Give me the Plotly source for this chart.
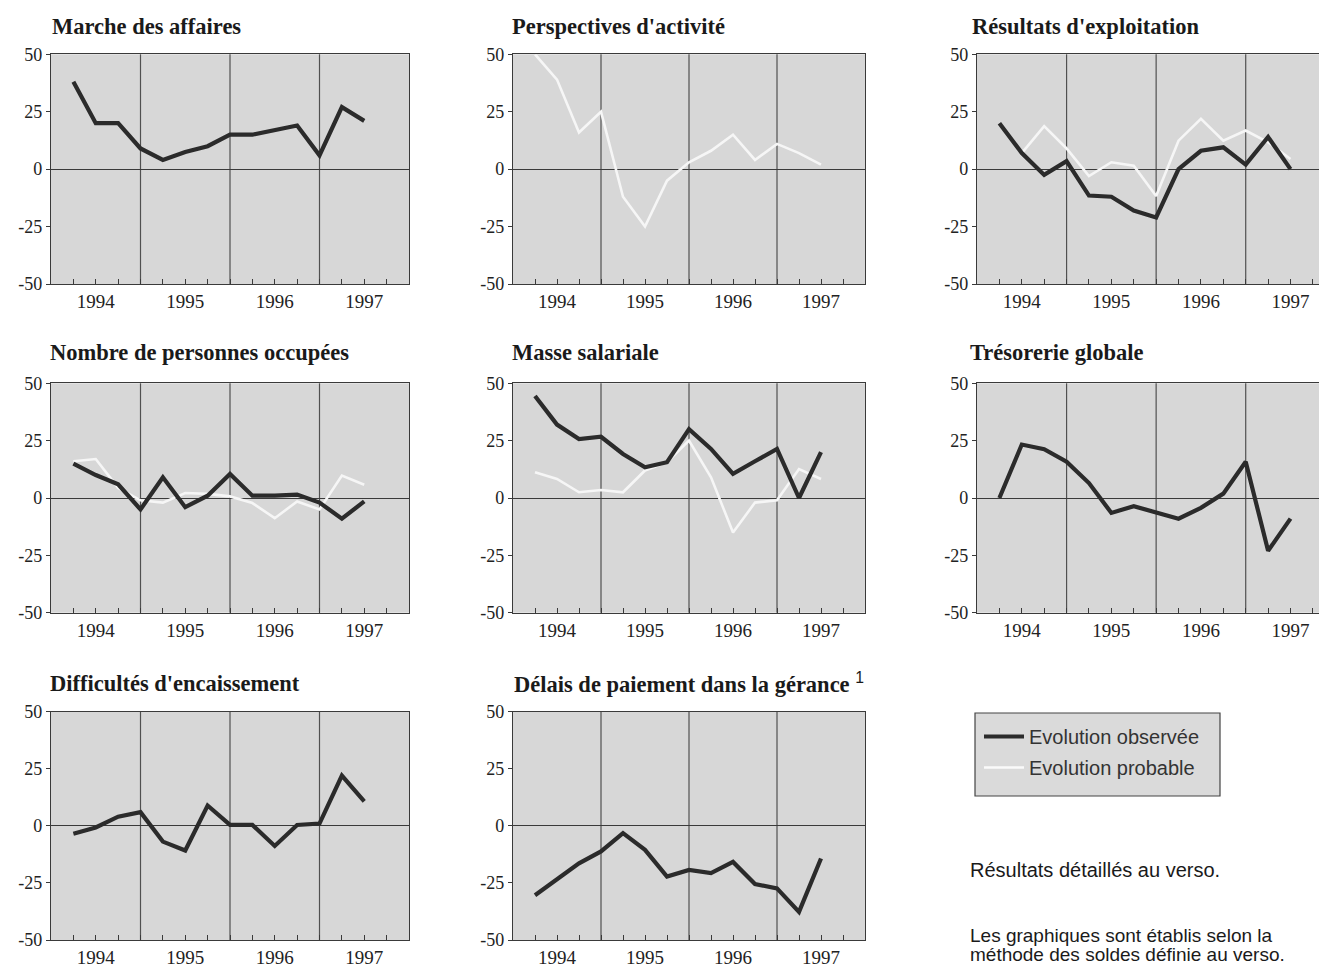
import plotly.graph_objects as go

# the page body has an 8px margin: figure is sized so that it ends at the window edge
OFF = 8
W, H = 1327 - OFF, 967 - OFF

# quarter index positions of the observations (1994 spans 0-4, 1995 spans 4-8, ...)
periods = [1, 2, 3, 4, 5, 6, 7, 8, 9, 10, 11, 12, 13, 14]
year_labels = ["1994", "1995", "1996", "1997"]
year_label_pos = [2, 6, 10, 14]
year_bounds = [4, 8, 12]

titles = [
    "Marche des affaires",
    "Perspectives d'activité",
    "Résultats d'exploitation",
    "Nombre de personnes occupées",
    "Masse salariale",
    "Trésorerie globale",
    "Difficultés d'encaissement",
    "Délais de paiement dans la gérance",
]

# Evolution observée (dark line)
obs_marche = [38, 20, 20, 9, 4, 7.5, 10, 15, 15, 17, 19, 6, 27, 21]
obs_perspectives = None
obs_resultats = [20, 7, -2.5, 3.5, -11.5, -12, -18, -21, 0, 8, 9.5, 2, 14, 0]
obs_personnes = [15, 10, 6, -5, 9, -4, 1, 10.5, 1, 1, 1.5, -2, -9, -1.5]
obs_masse = [44.5, 32, 25.7, 26.7, 19.2, 13.4, 15.6, 30, 21.4, 10.5, 16, 21.4, 0, 20]
obs_tresorerie = [0, 23.3, 21.3, 15.8, 6.5, -6.5, -3.6, -6.2, -9, -4.3, 1.9, 15.8, -23, -9]
obs_encaissement = [-3.5, -0.7, 4, 6, -6.9, -10.8, 8.9, 0.4, 0.4, -8.8, 0.4, 1, 22, 10.7]
obs_delais = [-30.4, -23.4, -16.4, -11.2, -3.2, -10.5, -22.2, -19.3, -20.7, -15.8, -25.5, -27.4, -37.7, -14.3]

# Evolution probable (white line)
prob_marche = None
prob_perspectives = [50, 39, 16, 25, -12, -25, -5, 3, 8, 15, 4, 11, 7, 2]
prob_resultats = [None, 7, 18.7, 9, -3, 3, 1.5, -11.7, 12.4, 21.9, 12.4, 16.8, 11.7, 4.4]
prob_personnes = [16, 17, 4.4, -1, -2, 2.2, 1.8, 0.7, -2.2, -8.8, -1.5, -5, 9.8, 5.8]
prob_masse = [11.2, 8.3, 2.5, 3.5, 2.5, 12, 15.6, 25, 9, -15, -2, -1, 12.6, 8.3]
prob_tresorerie = None
prob_encaissement = None
prob_delais = None

observed = [obs_marche, obs_perspectives, obs_resultats, obs_personnes,
            obs_masse, obs_tresorerie, obs_encaissement, obs_delais]
probable = [prob_marche, prob_perspectives, prob_resultats, prob_personnes,
            prob_masse, prob_tresorerie, prob_encaissement, prob_delais]

y_ticks = [-50, -25, 0, 25, 50]


def px(x):
    return (x - OFF) / W


def py(y):
    return 1 - (y - OFF) / H


# panel geometry in window pixels: (left, right, x range max) / (top, bottom)
col_px = [(51, 409, 16), (513, 865, 16), (977, 1327, 15.63)]
row_px = [(54.3, 284), (383.3, 612.7), (711.7, 940)]
title_pos = [(50, 27), (510, 27), (970, 27),
             (48, 352), (510, 352), (968, 352),
             (48, 683), (512, 683)]

DARK = "#2b2b2b"
LIGHT = "#f6f6f6"
BG = "#d7d7d7"
AXC = "#3a3a3a"
SERIF = "Liberation Serif"
SANS = "Liberation Sans"

fig = go.Figure()
layout = dict(
    width=W, height=H,
    margin=dict(l=0, r=0, t=0, b=0, autoexpand=False),
    paper_bgcolor="white",
    plot_bgcolor=BG,
    showlegend=True,
    legend=dict(
        x=px(979), y=py(717), xanchor="left", yanchor="top",
        bgcolor="rgba(0,0,0,0)", borderwidth=0,
        font=dict(family=SANS, size=20, color="#333"),
        itemwidth=40, tracegroupgap=2,
    ),
)
shapes = []
annotations = []

# legend frame
shapes.append(dict(type="rect", xref="paper", yref="paper",
                   x0=px(975), x1=px(1220), y0=py(796), y1=py(713),
                   fillcolor="#dadada", line=dict(color="#444", width=1.2),
                   layer="below"))

for i in range(8):
    r, c = divmod(i, 3)
    l, rr, xmax = col_px[c]
    t, b = row_px[r]
    n = i + 1
    xa = "xaxis" if n == 1 else f"xaxis{n}"
    ya = "yaxis" if n == 1 else f"yaxis{n}"
    xr = "x" if n == 1 else f"x{n}"
    yr = "y" if n == 1 else f"y{n}"
    layout[xa] = dict(
        domain=[px(l), min(1.0, px(rr))], anchor=yr, range=[0, xmax], automargin=False,
        tickmode="array", tickvals=year_label_pos, ticktext=year_labels,
        ticks="inside", ticklen=5, tickcolor=AXC, tickwidth=1,
        minor=dict(tickmode="linear", tick0=0, dtick=1, ticks="inside",
                   ticklen=5, tickcolor=AXC, tickwidth=1, showgrid=False),
        showgrid=False, zeroline=False, showline=True, mirror=True,
        linecolor=AXC, linewidth=1.2,
        tickfont=dict(family=SERIF, size=19, color="#222"),
        fixedrange=True,
    )
    layout[ya] = dict(
        domain=[py(b), py(t)], anchor=xr, range=[-50, 50], automargin=False,
        tickmode="array", tickvals=y_ticks, ticktext=[str(v) for v in y_ticks],
        ticks="outside", ticklen=4, tickcolor=AXC, tickwidth=1,
        showgrid=False, zeroline=True, zerolinecolor=AXC, zerolinewidth=1.2,
        showline=True, mirror=True, linecolor=AXC, linewidth=1.2,
        tickfont=dict(family=SERIF, size=18, color="#222"),
        fixedrange=True,
    )
    for xb in year_bounds:
        shapes.append(dict(type="line", xref=xr, yref=f"{yr} domain",
                           x0=xb, x1=xb, y0=0, y1=1,
                           line=dict(color="#505050", width=1.2), layer="below"))
    if probable[i] is not None:
        fig.add_trace(go.Scatter(
            x=periods, y=probable[i], mode="lines", xaxis=xr, yaxis=yr,
            line=dict(color=LIGHT, width=2.6), name="Evolution probable",
            legendgroup="prob", showlegend=False, cliponaxis=True,
        ))
    if observed[i] is not None:
        fig.add_trace(go.Scatter(
            x=periods, y=observed[i], mode="lines", xaxis=xr, yaxis=yr,
            line=dict(color=DARK, width=4.2), name="Evolution observée",
            legendgroup="obs", showlegend=False, cliponaxis=True,
        ))
    tx, ty = title_pos[i]
    txt = f"<b>{titles[i]}</b>"
    if i == 7:
        txt += " <sup><span style='font-family:Liberation Sans'>1</span></sup>"
    annotations.append(dict(
        text=txt, xref="paper", yref="paper", x=px(tx), y=py(ty),
        xanchor="left", yanchor="middle", showarrow=False,
        font=dict(family=SERIF, size=22.5, color="#1a1a1a"),
    ))

# legend entries (dummy traces carrying only the legend)
fig.add_trace(go.Scatter(x=[None], y=[None], mode="lines", name="Evolution observée",
                         line=dict(color=DARK, width=4), legendgroup="obs",
                         showlegend=True, xaxis="x", yaxis="y"))
fig.add_trace(go.Scatter(x=[None], y=[None], mode="lines", name="Evolution probable",
                         line=dict(color="#fafafa", width=2.5), legendgroup="prob",
                         showlegend=True, xaxis="x", yaxis="y"))

notes = [
    ("Résultats détaillés au verso.", 968, 870, 20),
    ("Les graphiques sont établis selon la", 968, 935, 19),
    ("méthode des soldes définie au verso.", 968, 954, 19),
]
for txt, nx, ny, fs in notes:
    annotations.append(dict(
        text=txt, xref="paper", yref="paper", x=px(nx), y=py(ny),
        xanchor="left", yanchor="middle", showarrow=False,
        font=dict(family=SANS, size=fs, color="#1a1a1a"),
    ))

layout["shapes"] = shapes
layout["annotations"] = annotations
fig.update_layout(**layout)
fig.write_html("out.html")
